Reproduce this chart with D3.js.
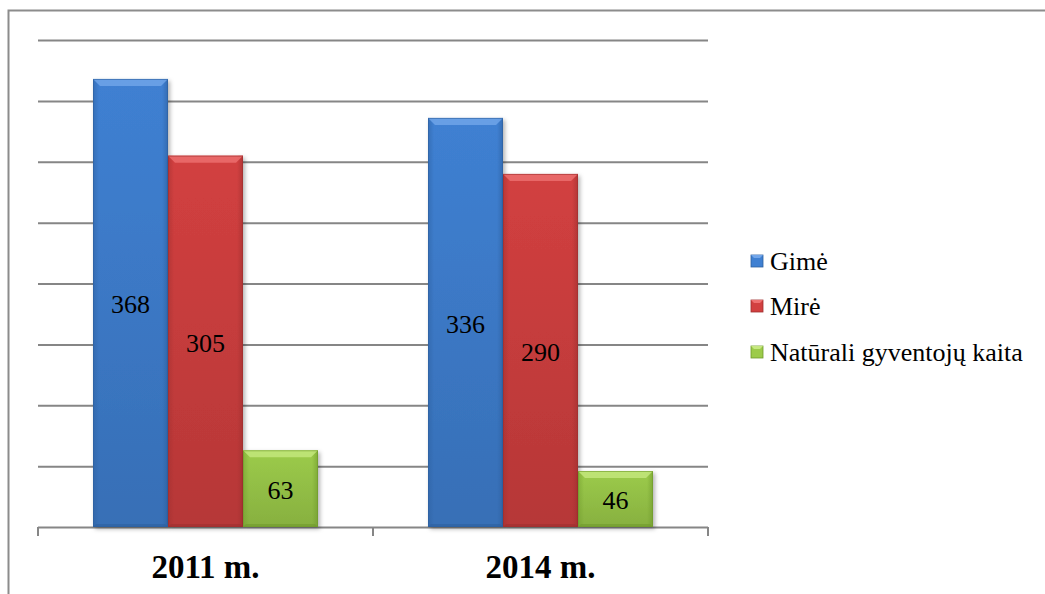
<!DOCTYPE html>
<html>
<head>
<meta charset="utf-8">
<script src="https://cdn.jsdelivr.net/npm/d3@7"></script>
<style>
  body { margin: 0; background: #fff; }
  svg { display: block; }
  svg text { font-family: "Liberation Serif", "Times New Roman", serif; }
</style>
</head>
<body>
<script>
var categories = ["2011 m.", "2014 m."];
var seriesNames = ["Gimė", "Mirė", "Natūrali gyventojų kaita"];
var gime = [368, 336];
var mire = [305, 290];
var kaita = [63, 46];
var gridTicks = [0, 50, 100, 150, 200, 250, 300, 350, 400];

var colors = [
  {main: "#3f80d2", dark: "#2d5f9e", light: "#72a6ea"},
  {main: "#d24040", dark: "#9e2f2f", light: "#ee7070"},
  {main: "#9ccb4a", dark: "#6f9a2c", light: "#c6e880"}
];

var width = 1045, height = 594;
var svg = d3.select("body").append("svg")
    .attr("width", width)
    .attr("height", height);

// frame
svg.append("rect")
    .attr("x", 8.5).attr("y", 10.5)
    .attr("width", 1100).attr("height", 700)
    .attr("fill", "none")
    .attr("stroke", "#8c8c8c")
    .attr("stroke-width", 2);

var x0 = d3.scaleBand().domain(categories).range([38, 708]).paddingInner(0).paddingOuter(0);
var x1 = d3.scaleBand().domain(seriesNames).range([55, 280]);
var y = d3.scaleLinear().domain([0, 400]).range([527, 40]);

var defs = svg.append("defs");
colors.forEach(function(c, i){
  var g = defs.append("linearGradient").attr("id", "g" + i)
      .attr("x1", 0).attr("y1", 0).attr("x2", 0).attr("y2", 1);
  g.append("stop").attr("offset", "0%").attr("stop-color", c.main);
  g.append("stop").attr("offset", "100%").attr("stop-color", d3.color(c.main).darker(0.4));
  var s = defs.append("linearGradient").attr("id", "s" + i)
      .attr("x1", 0).attr("y1", 0).attr("x2", 1).attr("y2", 0);
  s.append("stop").attr("offset", "0%").attr("stop-color", c.dark).attr("stop-opacity", 0.5);
  s.append("stop").attr("offset", "8%").attr("stop-color", c.dark).attr("stop-opacity", 0);
  s.append("stop").attr("offset", "92%").attr("stop-color", c.dark).attr("stop-opacity", 0);
  s.append("stop").attr("offset", "100%").attr("stop-color", c.dark).attr("stop-opacity", 0.6);
});
var shadow = defs.append("filter").attr("id", "shadow")
    .attr("x", "-10%").attr("y", "-10%").attr("width", "130%").attr("height", "130%");
shadow.append("feDropShadow").attr("dx", 2).attr("dy", 2).attr("stdDeviation", 2)
    .attr("flood-color", "#000").attr("flood-opacity", 0.3);

// gridlines
svg.append("g").selectAll("line").data(gridTicks.slice(1)).enter().append("line")
    .attr("x1", 38).attr("x2", 708)
    .attr("y1", function(d){ return y(d) + 0.5; })
    .attr("y2", function(d){ return y(d) + 0.5; })
    .attr("stroke", "#868686").attr("stroke-width", 2);

// x axis
var xAxis = d3.axisBottom(x0).tickSize(0).tickFormat("");
var axisG = svg.append("g").attr("transform", "translate(0," + 527 + ")").call(xAxis);
axisG.select(".domain").remove();
axisG.append("line").attr("x1", 38).attr("x2", 708).attr("y1", 0.5).attr("y2", 0.5)
    .attr("stroke", "#868686").attr("stroke-width", 2);
[38, 373, 708].forEach(function(px){
  axisG.append("line").attr("x1", px).attr("x2", px).attr("y1", 0).attr("y2", 9)
      .attr("stroke", "#868686").attr("stroke-width", 2);
});

var series = [gime, mire, kaita];
var bars = [];
categories.forEach(function(cat, ci){
  series.forEach(function(vals, si){
    bars.push({cat: cat, s: si, name: seriesNames[si], v: vals[ci]});
  });
});

var barG = svg.append("g").selectAll("g").data(bars).enter().append("g")
    .attr("transform", function(d){ return "translate(" + (x0(d.cat) + x1(d.name)) + ",0)"; });

var bw = x1.bandwidth();
var bev = 7;

barG.append("rect")
    .attr("x", 0).attr("y", function(d){ return y(d.v); })
    .attr("width", bw).attr("height", function(d){ return y(0) - y(d.v); })
    .attr("fill", function(d){ return "url(#g" + d.s + ")"; })
    .attr("filter", "url(#shadow)");
barG.append("rect")
    .attr("x", 0).attr("y", function(d){ return y(d.v); })
    .attr("width", bw).attr("height", function(d){ return y(0) - y(d.v); })
    .attr("fill", function(d){ return "url(#s" + d.s + ")"; });
// top bevel
barG.append("path")
    .attr("d", function(d){
      var t = y(d.v);
      return "M0," + t + "L" + bw + "," + t + "L" + (bw - bev) + "," + (t + bev) + "L" + bev + "," + (t + bev) + "Z";
    })
    .attr("fill", function(d){ return colors[d.s].light; })
    .attr("opacity", 0.8);
// bottom bevel
barG.append("path")
    .attr("d", function(d){
      var b = y(0);
      return "M0," + b + "L" + bw + "," + b + "L" + (bw - 3) + "," + (b - 3) + "L3," + (b - 3) + "Z";
    })
    .attr("fill", function(d){ return colors[d.s].dark; })
    .attr("opacity", 0.6);
barG.append("rect")
    .attr("x", 0.5).attr("y", function(d){ return y(d.v) + 0.5; })
    .attr("width", bw - 1).attr("height", function(d){ return y(0) - y(d.v) - 1; })
    .attr("fill", "none")
    .attr("stroke", function(d){ return colors[d.s].dark; })
    .attr("stroke-opacity", 0.6);

barG.append("text")
    .attr("x", bw / 2)
    .attr("y", function(d){ return (y(d.v) + y(0)) / 2; })
    .attr("dy", "0.4em")
    .attr("text-anchor", "middle")
    .attr("font-size", 26)
    .attr("fill", "#000")
    .text(function(d){ return d.v; });

// category labels
svg.append("g").selectAll("text").data(categories).enter().append("text")
    .attr("x", function(d){ return x0(d) + x0.bandwidth() / 2; })
    .attr("y", 578)
    .attr("text-anchor", "middle")
    .attr("font-weight", "bold")
    .attr("font-size", 33)
    .text(function(d){ return d; });

// legend
var legend = svg.append("g").selectAll("g").data(seriesNames).enter().append("g")
    .attr("transform", function(d, i){ return "translate(751," + [261, 306, 352][i] + ")"; });
legend.append("rect")
    .attr("x", 0).attr("y", -6).attr("width", 12).attr("height", 12)
    .attr("fill", function(d, i){ return colors[i].main; })
    .attr("stroke", function(d, i){ return colors[i].dark; })
    .attr("stroke-width", 0.8);
legend.append("path")
    .attr("d", "M0,-6L12,-6L9,-3L3,-3Z")
    .attr("fill", function(d, i){ return colors[i].light; });
legend.append("text")
    .attr("x", 19).attr("y", 0).attr("dy", "0.35em")
    .attr("font-size", 26)
    .text(function(d){ return d; });
</script>
</body>
</html>
